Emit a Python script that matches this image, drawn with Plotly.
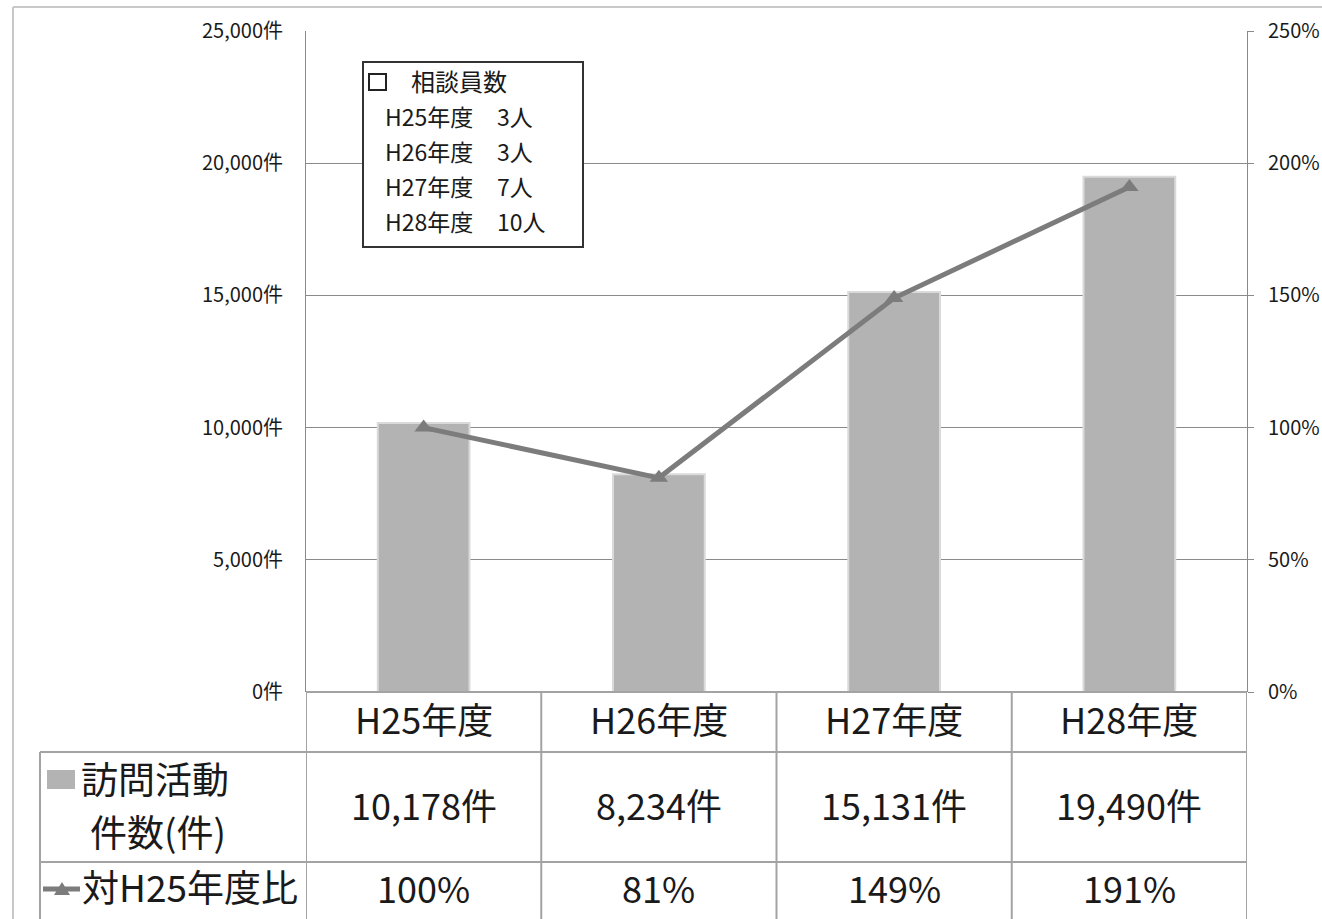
import plotly.graph_objects as go

# ---- data ----
categories = ["H25年度", "H26年度", "H27年度", "H28年度"]
visits = [10178, 8234, 15131, 19490]          # 訪問活動件数(件)
ratio_pct = [100, 81, 149, 191]               # 対H25年度比 (%)
staff = [3, 3, 7, 10]                         # 相談員数 (人)
left_ticks = [0, 5000, 10000, 15000, 20000, 25000]
right_ticks = [0, 50, 100, 150, 200, 250]

W, H = 1322, 919
FONT = "Noto Sans CJK JP, Noto Sans, sans-serif"
TXT = "#1a1a1a"
BAR = "#b3b3b3"
LINE = "#7c7c7c"
GRID = "#8a8a8a"
TBL = "#a3a3a3"

def px(x):
    return x / W

def py(y):
    return 1 - y / H

fig = go.Figure()
fig.add_trace(go.Bar(
    x=categories, y=visits, width=0.39,
    marker=dict(color=BAR, line=dict(color="#dadada", width=2)),
    yaxis="y", showlegend=False, hoverinfo="skip"))
fig.add_trace(go.Scatter(
    x=categories, y=ratio_pct, mode="lines+markers",
    line=dict(color=LINE, width=5),
    marker=dict(symbol="triangle-up", size=16, color=LINE),
    yaxis="y2", showlegend=False, hoverinfo="skip"))

shapes = []
annots = []

# outer chart border (top & left visible)
shapes.append(dict(type="line", xref="paper", yref="paper", x0=px(13), x1=px(W + 5), y0=py(7), y1=py(7),
                   line=dict(color="#c8c8c8", width=2)))
shapes.append(dict(type="line", xref="paper", yref="paper", x0=px(13), x1=px(13), y0=py(7), y1=py(H + 5),
                   line=dict(color="#c8c8c8", width=2)))

# table lines
n = len(categories)
for i in range(n + 1):
    shapes.append(dict(type="line", xref="x", yref="paper", x0=i - 0.5, x1=i - 0.5,
                       y0=py(692), y1=py(H + 5), line=dict(color=TBL, width=2)))
shapes.append(dict(type="line", xref="paper", yref="paper", x0=px(306), x1=px(1247), y0=py(692), y1=py(692),
                   line=dict(color=TBL, width=2)))
for yy in (752, 862):
    shapes.append(dict(type="line", xref="paper", yref="paper", x0=px(40), x1=px(1247), y0=py(yy), y1=py(yy),
                       line=dict(color=TBL, width=2)))
shapes.append(dict(type="line", xref="paper", yref="paper", x0=px(40), x1=px(40), y0=py(752), y1=py(H + 5),
                   line=dict(color=TBL, width=2)))

# table contents
for i, c in enumerate(categories):
    annots.append(dict(x=c, xref="x", y=py(718), yref="paper", text=c, showarrow=False,
                       font=dict(size=36, color=TXT, family=FONT), xanchor="center", yanchor="middle"))
    annots.append(dict(x=c, xref="x", y=py(804), yref="paper", text=f"{visits[i]:,}件", showarrow=False,
                       font=dict(size=36, color=TXT, family=FONT), xanchor="center", yanchor="middle"))
    annots.append(dict(x=c, xref="x", y=py(887), yref="paper", text=f"{ratio_pct[i]}%", showarrow=False,
                       font=dict(size=36, color=TXT, family=FONT), xanchor="center", yanchor="middle"))

# row labels with legend keys
shapes.append(dict(type="rect", xref="paper", yref="paper", x0=px(47), x1=px(75), y0=py(770), y1=py(789),
                   fillcolor=BAR, line=dict(width=0)))
annots.append(dict(x=px(79), xref="paper", y=py(778), yref="paper", text="訪問活動", showarrow=False,
                   font=dict(size=37, color=TXT, family=FONT), xanchor="left", yanchor="middle"))
annots.append(dict(x=px(88), xref="paper", y=py(831), yref="paper", text="件数(件)", showarrow=False,
                   font=dict(size=37, color=TXT, family=FONT), xanchor="left", yanchor="middle"))
shapes.append(dict(type="line", xref="paper", yref="paper", x0=px(43), x1=px(80), y0=py(889), y1=py(889),
                   line=dict(color=LINE, width=5)))
shapes.append(dict(type="path", xref="paper", yref="paper",
                   path=f"M {px(54)} {py(895)} L {px(70)} {py(895)} L {px(62)} {py(882)} Z",
                   fillcolor=LINE, line=dict(width=0)))
annots.append(dict(x=px(80), xref="paper", y=py(886), yref="paper", text="対H25年度比", showarrow=False,
                   font=dict(size=37, color=TXT, family=FONT), xanchor="left", yanchor="middle"))

# staff box
shapes.append(dict(type="rect", xref="paper", yref="paper", x0=px(363), x1=px(583), y0=py(62), y1=py(247),
                   fillcolor="white", line=dict(color="#333333", width=2), layer="above"))
shapes.append(dict(type="rect", xref="paper", yref="paper", x0=px(369), x1=px(386), y0=py(74), y1=py(90),
                   fillcolor="white", line=dict(color="#222222", width=2), layer="above"))
annots.append(dict(x=px(409), xref="paper", y=py(81), yref="paper", text="相談員数", showarrow=False,
                   font=dict(size=24, color=TXT, family=FONT), xanchor="left", yanchor="middle"))
for i, c in enumerate(categories):
    yy = 116 + i * 35
    annots.append(dict(x=px(383), xref="paper", y=py(yy), yref="paper", text=c, showarrow=False,
                       font=dict(size=23, color=TXT, family=FONT), xanchor="left", yanchor="middle"))
    annots.append(dict(x=px(495), xref="paper", y=py(yy), yref="paper", text=f"{staff[i]}人", showarrow=False,
                       font=dict(size=23, color=TXT, family=FONT), xanchor="left", yanchor="middle"))

fig.update_layout(
    autosize=True,
    margin=dict(l=0, r=0, t=0, b=0, autoexpand=False),
    paper_bgcolor="white", plot_bgcolor="white",
    font=dict(family=FONT, color=TXT),
    bargap=0.6,
    xaxis=dict(type="category", categoryorder="array", categoryarray=categories,
               range=[-0.5, n - 0.5], domain=[px(306), px(1247)], automargin=False,
               showticklabels=False, showgrid=False, showline=False, zeroline=False, fixedrange=True),
    yaxis=dict(range=[0, 25000], domain=[py(692), py(31)], automargin=False,
               tickvals=left_ticks, ticktext=[f"{v:,}件" for v in left_ticks],
               tickfont=dict(size=20, color=TXT, family=FONT),
               showgrid=True, gridcolor=GRID, gridwidth=1, zeroline=False,
               showline=True, linecolor=GRID, linewidth=1, ticks="",
               ticklabelstandoff=18, fixedrange=True),
    yaxis2=dict(range=[0, 250], overlaying="y", side="right", anchor="x", automargin=False,
                tickvals=right_ticks, ticktext=[f"{v}%" for v in right_ticks],
                tickfont=dict(size=20, color=TXT, family=FONT),
                showgrid=False, zeroline=False,
                showline=True, linecolor=GRID, linewidth=1,
                ticks="outside", ticklen=6, tickcolor=GRID,
                ticklabelstandoff=10, fixedrange=True),
    shapes=shapes, annotations=annots,
)

fig.write_html(
    "out.html", include_plotlyjs=True,
    default_width="100vw", default_height="100vh",
    config={"responsive": True, "displayModeBar": False},
    post_script=("document.documentElement.style.margin='0';"
                 "document.body.style.margin='0';document.body.style.overflow='hidden';"
                 "Plotly.Plots.resize(document.getElementById('{plot_id}'));"))
